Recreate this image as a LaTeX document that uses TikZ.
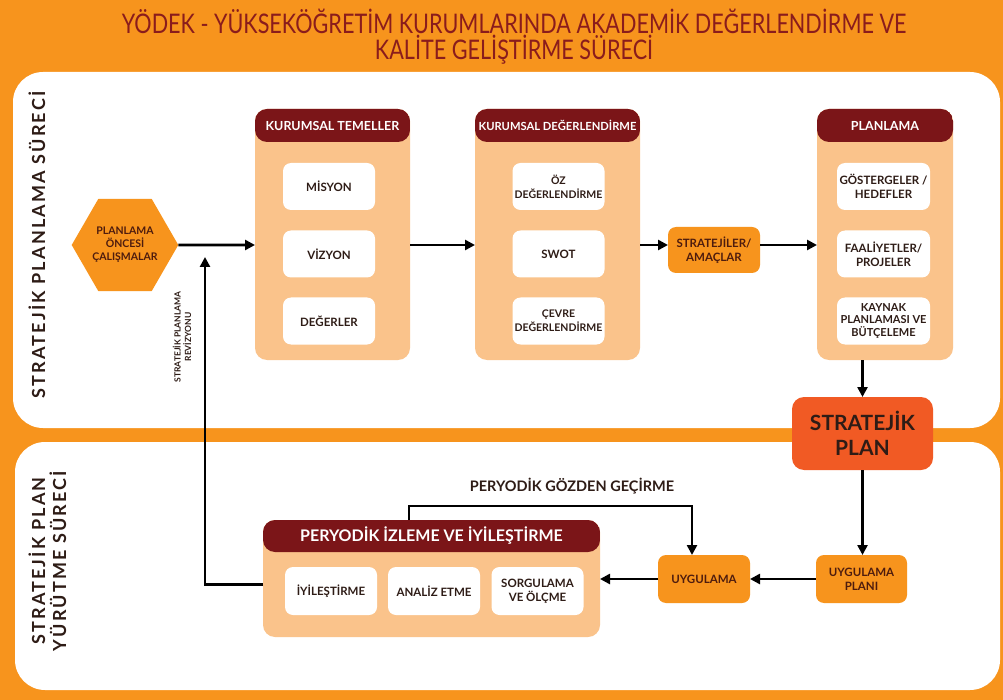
\documentclass[tikz,border=0pt]{standalone}
\usepackage{fontspec}
\setmainfont{Lato}
\usetikzlibrary{arrows.meta,shapes.geometric}

\definecolor{bgorange}{HTML}{F7941D}
\definecolor{peach}{HTML}{FAC38B}
\definecolor{hdrred}{HTML}{7B1518}
\definecolor{titlered}{HTML}{8A1C1C}
\definecolor{planred}{HTML}{F15A24}
\definecolor{inktext}{HTML}{2E1C16}
\definecolor{browntext}{HTML}{4E1C0E}

\begin{document}
\begin{tikzpicture}[x=1pt, y=-1pt, line width=2.6pt,
  >={Triangle[length=10pt,width=10pt]},
  bigbox/.style={fill=peach, rounded corners=12pt, inner sep=0pt, outer sep=0pt,
    path picture={\fill[hdrred] (path picture bounding box.north west)
      rectangle ([yshift=-33pt]path picture bounding box.north east);}},
  hdrtext/.style={text=white, font=\bfseries\fontsize{12.5}{14}\selectfont},
  itembox/.style={fill=white, rounded corners=8pt, inner sep=0pt, outer sep=0pt,
    minimum width=92pt, minimum height=47pt, align=center, text=inktext,
    font=\bfseries\fontsize{11.5}{14}\selectfont},
  orbox/.style={fill=bgorange, rounded corners=8pt, inner sep=0pt, outer sep=0pt,
    minimum width=92pt, minimum height=47pt, align=center, text=browntext,
    font=\bfseries\fontsize{11.5}{14}\selectfont},
  sidetext/.style={rotate=90, align=center, text=inktext,
    font=\bfseries\fontsize{18}{21}\selectfont\addfontfeatures{LetterSpace=12}},
  smalltext/.style={align=center, text=inktext, font=\bfseries\fontsize{14.5}{16}\selectfont}]

% Background and panels
\useasboundingbox (0,0) rectangle (1003,700);
\fill[bgorange] (0,0) rectangle (1003,700);
\fill[white, rounded corners=30pt] (13,72) rectangle (1000,428);
\fill[white, rounded corners=30pt] (15,442) rectangle (1000,690);

% Title
\node[text=titlered, font=\fontsize{27}{30}\selectfont] (title1) at (514,21)
  {\scalebox{0.8}[1]{YÖDEK - YÜKSEKÖĞRETİM KURUMLARINDA AKADEMİK DEĞERLENDİRME VE}};
\node[text=titlered, font=\fontsize{27}{30}\selectfont] (title2) at (514,50)
  {\scalebox{0.8}[1]{KALİTE GELİŞTİRME SÜRECİ}};

% Side labels
\node[sidetext] (topside) at (37,245) {STRATEJİK PLANLAMA SÜRECİ};
\node[sidetext] (botside) at (47.5,561) {STRATEJİK PLAN\\YÜRÜTME SÜRECİ};

% Planning steps
\node[regular polygon, regular polygon sides=6, minimum size=106pt, inner sep=0pt,
  outer sep=0pt, fill=bgorange, align=center, text=browntext,
  font=\bfseries\fontsize{10.5}{13}\selectfont] (hex) at (125,245)
  {PLANLAMA\\ÖNCESİ\\ÇALIŞMALAR};

\node[bigbox, minimum width=155pt, minimum height=251pt] (b1) at (332.5,234.5) {};
\node[hdrtext] (b1h) at (332.5,125.5) {KURUMSAL TEMELLER};
\node[itembox] (misyon) at (329,186.5) {MİSYON};
\node[itembox] (vizyon) at (329,254) {VİZYON};
\node[itembox] (deger) at (329,321) {DEĞERLER};

\node[bigbox, minimum width=165pt, minimum height=251pt] (b2) at (557.5,234.5) {};
\node[hdrtext, font=\bfseries\fontsize{11.2}{13}\selectfont] (b2h) at (557.5,125.5) {KURUMSAL DEĞERLENDİRME};
\node[itembox, font=\bfseries\fontsize{10.5}{14}\selectfont] (oz) at (558.5,186.5) {ÖZ\\DEĞERLENDİRME};
\node[itembox] (swot) at (558.5,254) {SWOT};
\node[itembox, font=\bfseries\fontsize{10.5}{14}\selectfont] (cevre) at (558.5,321) {ÇEVRE\\DEĞERLENDİRME};

\node[orbox, minimum height=46pt] (amac) at (714,250) {STRATEJİLER/\\AMAÇLAR};

\node[bigbox, minimum width=136pt, minimum height=251pt] (b3) at (885,234.5) {};
\node[hdrtext] (b3h) at (885,125.5) {PLANLAMA};
\node[itembox, minimum width=93pt] (gost) at (883.5,186.5) {GÖSTERGELER /\\HEDEFLER};
\node[itembox, minimum width=93pt] (faal) at (883.5,254) {FAALİYETLER/\\PROJELER};
\node[itembox, minimum width=93pt, font=\bfseries\fontsize{11}{12.5}\selectfont] (kaynak) at (883.5,321)
  {KAYNAK\\PLANLAMASI VE\\BÜTÇELEME};

\node[fill=planred, rounded corners=12pt, minimum width=141pt, minimum height=73pt,
  inner sep=0pt, outer sep=0pt, align=center, text=inktext,
  font=\bfseries\fontsize{21}{25}\selectfont] (splan) at (862.5,433.5) {STRATEJİK\\PLAN};

% Execution steps
\node[orbox, minimum width=91pt, minimum height=48pt] (uplani) at (861.5,579) {UYGULAMA\\PLANI};
\node[orbox, minimum height=48pt] (uyg) at (704,579) {UYGULAMA};

\node[bigbox, minimum width=337pt, minimum height=117pt,
  path picture={\fill[hdrred] (path picture bounding box.north west)
    rectangle ([yshift=-32pt]path picture bounding box.north east);}] (peri) at (431.5,578.5) {};
\node[hdrtext, font=\bfseries\fontsize{16}{18}\selectfont] (perih) at (431.5,536) {PERYODİK İZLEME VE İYİLEŞTİRME};
\node[itembox, minimum height=48pt] (iyi) at (331,591) {İYİLEŞTİRME};
\node[itembox, minimum height=48pt] (analiz) at (434,591) {ANALİZ ETME};
\node[itembox, minimum height=48pt] (sorg) at (537.5,591) {SORGULAMA\\VE ÖLÇME};

% Labels on connectors
\node[smalltext] (gozlbl) at (572,486) {PERYODİK GÖZDEN GEÇİRME};
\node[rotate=90, align=center, text=inktext, font=\bfseries\fontsize{8.5}{10.5}\selectfont]
  (revlbl) at (182,337) {STRATEJİK PLANLAMA\\REVİZYONU};

% Connectors
\coordinate (flow) at (0,245);
\coordinate (rev) at (205,257);
\coordinate (goz) at (409,506);
\draw[->] (hex.east) -- (b1.west |- flow);
\draw[->] (b1.east |- flow) -- (b2.west |- flow);
\draw[->] (b2.east |- flow) -- (amac.west |- flow);
\draw[->] (amac.east |- flow) -- (b3.west |- flow);
\draw[->] (b3.south -| splan.north) -- (splan.north);
\draw[->] (splan.south) -- (splan.south |- uplani.north);
\draw[->] (uplani.west) -- (uyg.east);
\draw[->] (uyg.west) -- (peri.east |- uyg.west);
\draw[->] (peri.north -| goz) |- ([xshift=-12pt]uyg.north |- goz) -- ([xshift=-12pt]uyg.north);
\draw[->] ([yshift=-6pt]peri.west) -| (rev);

\end{tikzpicture}
\end{document}
